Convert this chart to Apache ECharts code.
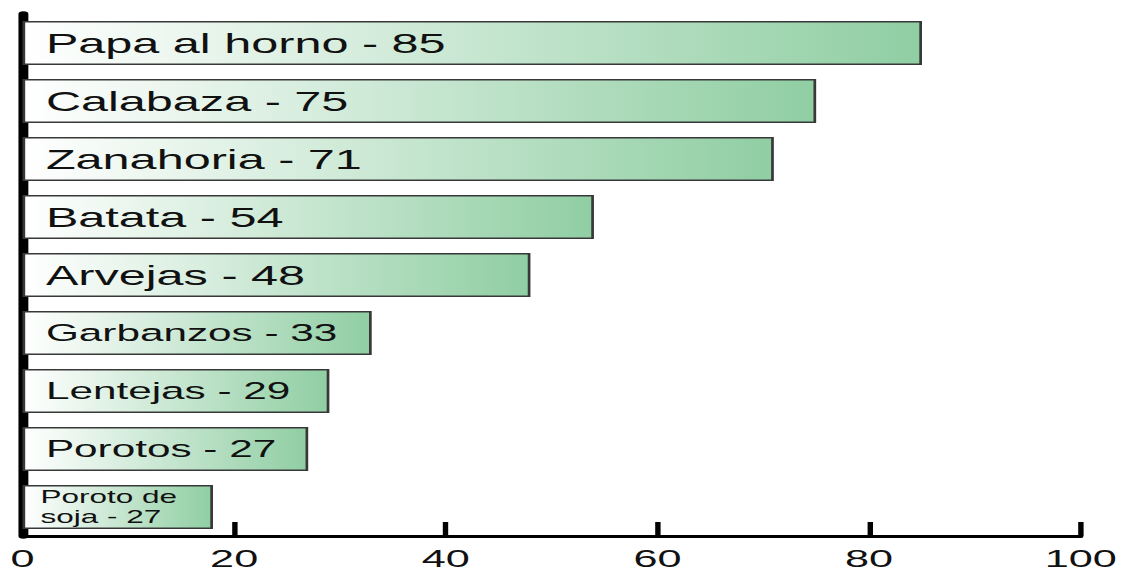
<!DOCTYPE html>
<html>
<head>
<meta charset="utf-8">
<script src="https://cdn.jsdelivr.net/npm/echarts/dist/echarts.min.js"></script>
<style>
  html, body { margin: 0; padding: 0; background: #fff; overflow: hidden; }
  /* el original está estirado en horizontal, así que se dibuja angosto y se escala */
  #chart { width: 626px; height: 570px; transform: scaleX(1.8); transform-origin: 0 0; }
</style>
</head>
<body>
<div id="chart"></div>
<script>
// datos
const categories = ['Papa al horno', 'Calabaza', 'Zanahoria', 'Batata', 'Arvejas',
  'Garbanzos', 'Lentejas', 'Porotos', 'Poroto de soja'];
const values = [85, 75, 71, 54, 48, 33, 29, 27, 18];
const labelTexts = ['Papa al horno - 85', 'Calabaza - 75', 'Zanahoria - 71', 'Batata - 54',
  'Arvejas - 48', 'Garbanzos - 33', 'Lentejas - 29', 'Porotos - 27', 'Poroto de\nsoja - 27'];
const xTicks = [0, 20, 40, 60, 80, 100];

const FONT = "'Liberation Sans', Arial, Helvetica, sans-serif";

// tamaño de letra según la barra
const labelStyle = (i) => {
  if (i < 5) return { fontSize: 27, distance: 13 };
  if (i < 8) return { fontSize: 23.5, distance: 13 };
  return { fontSize: 17.5, lineHeight: 20, distance: 10 };
};

const chart = echarts.init(document.getElementById('chart'), null, { renderer: 'svg' });

const option = {
  animation: false,
  grid: { left: 12.5, right: 25.6, top: 14, bottom: 31 },
  xAxis: {
    type: 'value',
    min: xTicks[0],
    max: xTicks[xTicks.length - 1],
    interval: 20,
    splitLine: { show: false },
    axisLine: { show: true, lineStyle: { color: '#000', width: 3 } },
    axisTick: { show: true, inside: true, length: 14, lineStyle: { color: '#000', width: 3 } },
    axisLabel: { color: '#111', fontSize: 24, fontFamily: FONT, margin: 10 }
  },
  yAxis: {
    type: 'category',
    inverse: true,
    data: categories,
    axisLine: { show: true, lineStyle: { color: '#000', width: 5.5 } },
    axisTick: { show: false },
    axisLabel: { show: false }
  },
  series: [
    {
      type: 'bar',
      barWidth: 44,
      data: values.map((v, i) => ({
        value: v,
        label: Object.assign({
          show: true,
          position: 'insideLeft',
          color: '#111',
          fontFamily: FONT,
          formatter: () => labelTexts[i]
        }, labelStyle(i))
      })),
      itemStyle: {
        color: new echarts.graphic.LinearGradient(0, 0, 1, 0, [
          { offset: 0, color: '#ffffff' },
          { offset: 1, color: '#90cea3' }
        ]),
        borderColor: '#383838',
        borderWidth: 1.5
      }
    }
  ]
};

chart.setOption(option);
</script>
</body>
</html>
